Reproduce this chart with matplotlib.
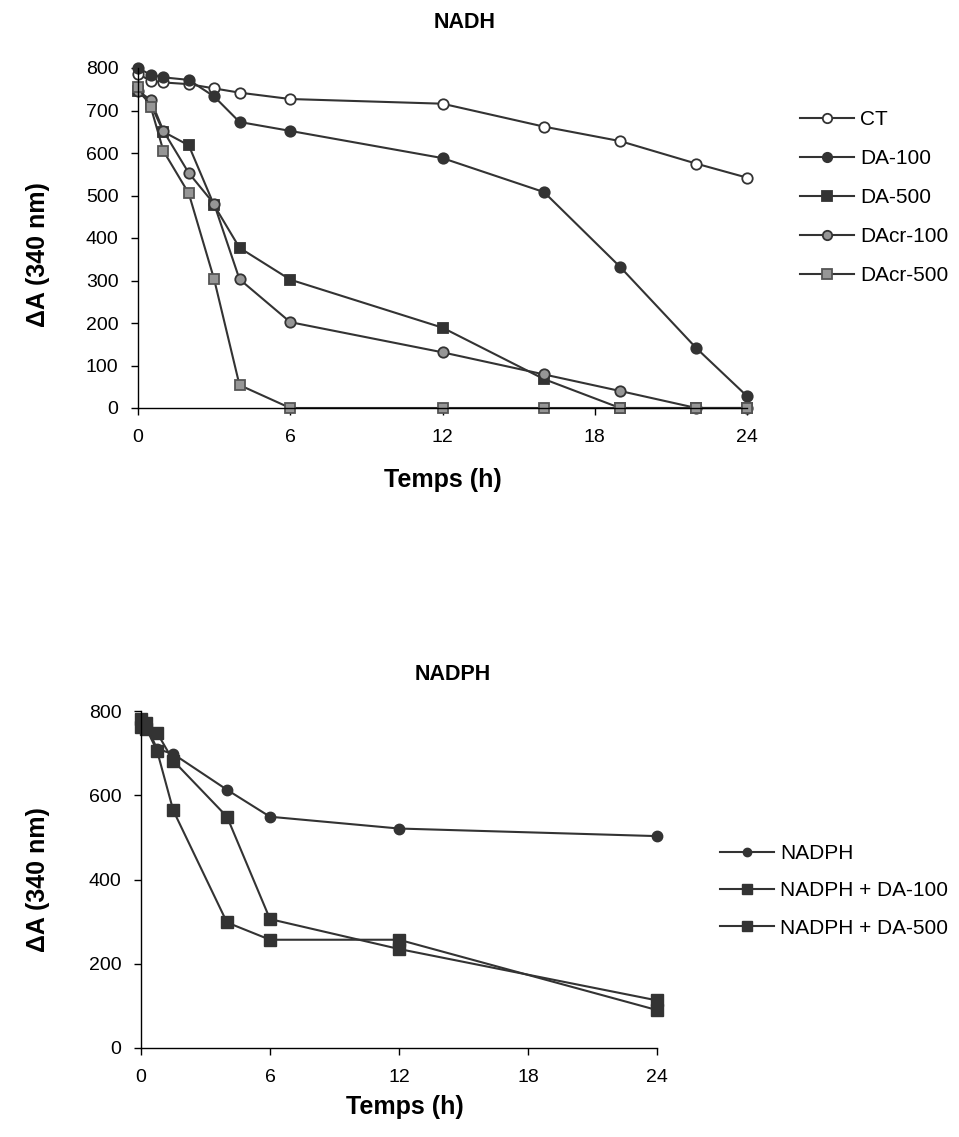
import matplotlib
matplotlib.use("Agg")
import matplotlib.pyplot as plt

plt.rcParams['font.family'] = ['Liberation Sans', 'DejaVu Sans']

# ---- NADH panel data ----
t_nadh = [0, 0.5, 1, 2, 3, 4, 6, 12, 16, 19, 22, 24]
ct = [786, 770, 766, 762, 752, 742, 727, 716, 662, 628, 575, 542]
da100 = [800, 784, 778, 772, 733, 673, 652, 588, 508, 332, 141, 28]
da500 = [746, 715, 650, 618, 477, 377, 302, 189, 68, 0, 0, 0]
dacr100 = [746, 725, 652, 553, 480, 303, 202, 131, 79, 40, 0, 0]
dacr500 = [756, 709, 605, 505, 303, 54, 0, 0, 0, 0, 0, 0]
nadh_labels = ['CT', 'DA-100', 'DA-500', 'DAcr-100', 'DAcr-500']

# ---- NADPH panel data ----
t_nadph = [0, 0.25, 0.75, 1.5, 4, 6, 12, 24]
nadph = [770, 765, 710, 698, 613, 549, 521, 503]
nadph_da100 = [782, 772, 748, 682, 549, 306, 235, 113]
nadph_da500 = [762, 758, 705, 564, 298, 257, 257, 90]
nadph_labels = ['NADPH', 'NADPH + DA-100', 'NADPH + DA-500']

xticks = [0, 6, 12, 18, 24]

W, H = 959, 1137
fig = plt.figure(figsize=(W / 100, H / 100), dpi=100)

def px_axes(left, right, top, bottom):
    return fig.add_axes([left / W, 1 - bottom / H, (right - left) / W, (bottom - top) / H])

LC = '#333333'
GRAY = '#969696'

def style(ax, yticks, xl, yl):
    for s in ['top', 'right']:
        ax.spines[s].set_visible(False)
    for s in ['left', 'bottom']:
        ax.spines[s].set_color('black')
        ax.spines[s].set_linewidth(1.0)
    ax.set_xlim(0, 24)
    ax.set_ylim(0, 800)
    ax.set_xticks(xticks)
    ax.set_yticks(yticks)
    ax.tick_params(direction='out', length=5, width=1, labelsize=14, colors='black')
    ax.tick_params(axis='x', pad=10)
    ax.tick_params(axis='y', pad=9)
    ax.set_xlabel('Temps (h)', fontsize=18, fontweight='bold')
    ax.set_ylabel('ΔA (340 nm)', fontsize=18, fontweight='bold')
    ax.xaxis.set_label_coords(*xl)
    ax.xaxis.label.set_va('center')
    ax.yaxis.set_label_coords(*yl)
    ax.yaxis.label.set_va('center')

# ---- top panel ----
L1, R1, T1, B1 = 138, 747, 68, 408
ax1 = px_axes(L1, R1, T1, B1)
styles1 = [
    dict(marker='o', mfc='white', mec=LC),
    dict(marker='o', mfc=LC, mec=LC),
    dict(marker='s', mfc=LC, mec=LC),
    dict(marker='o', mfc=GRAY, mec=LC),
    dict(marker='s', mfc=GRAY, mec='#555555'),
]
for ys, lab, st in zip([ct, da100, da500, dacr100, dacr500], nadh_labels, styles1):
    ax1.plot(t_nadh, ys, color=LC, lw=1.5, ms=7.5, mew=1.3, label=lab, clip_on=False, **st)
style(ax1, list(range(0, 801, 100)),
      (0.5, (B1 - 480) / (B1 - T1)),
      ((38 - L1) / (R1 - L1), (B1 - 255) / (B1 - T1)))
fig.text(465 / W, 1 - 22 / H, 'NADH', ha='center', va='center', fontsize=15.5, fontweight='bold')
h1, l1 = ax1.get_legend_handles_labels()
fig.legend(h1, l1, loc='upper left', bbox_to_anchor=(800 / W, 1 - 110 / H),
           frameon=False, fontsize=15, handlelength=2.6, handletextpad=0.3,
           labelspacing=0.96, markerscale=0.9, borderaxespad=0, borderpad=0)

# ---- bottom panel ----
L2, R2, T2, B2 = 141, 657, 711, 1048
ax2 = px_axes(L2, R2, T2, B2)
styles2 = [
    dict(marker='o', mfc=LC, mec=LC, ms=7.5),
    dict(marker='s', mfc=LC, mec=LC, ms=9),
    dict(marker='s', mfc=LC, mec=LC, ms=9),
]
for ys, lab, st in zip([nadph, nadph_da100, nadph_da500], nadph_labels, styles2):
    ax2.plot(t_nadph, ys, color=LC, lw=1.5, mew=1, label=lab, clip_on=False, **st)
style(ax2, list(range(0, 801, 200)),
      ((405 - L2) / (R2 - L2), (B2 - 1107) / (B2 - T2)),
      ((38 - L2) / (R2 - L2), 0.5))
fig.text(453 / W, 1 - 675 / H, 'NADPH', ha='center', va='center', fontsize=15.5, fontweight='bold')
h2, l2 = ax2.get_legend_handles_labels()
fig.legend(h2, l2, loc='upper left', bbox_to_anchor=(720 / W, 1 - 844 / H),
           frameon=False, fontsize=15, handlelength=2.6, handletextpad=0.3,
           labelspacing=0.88, markerscale=0.8, borderaxespad=0, borderpad=0)

fig.savefig('out.png', dpi=100)
